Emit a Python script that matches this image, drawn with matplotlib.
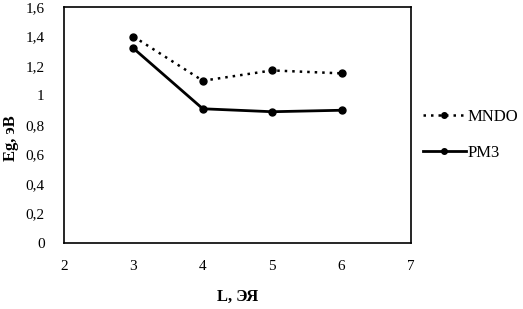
import matplotlib
matplotlib.use("Agg")
import matplotlib.pyplot as plt
from matplotlib.ticker import FuncFormatter

plt.rcParams['font.family'] = ['Liberation Serif', 'DejaVu Serif']

L = [3, 4, 5, 6]
mndo = [1.40, 1.10, 1.17, 1.15]
pm3 = [1.32, 0.91, 0.89, 0.90]
xticks = [2, 3, 4, 5, 6, 7]
yticks = [0, 0.2, 0.4, 0.6, 0.8, 1.0, 1.2, 1.4, 1.6]

fig = plt.figure(figsize=(5.23, 3.09), dpi=100)
ax = fig.add_axes([64/523, 1 - 243/309, (411-64)/523, (243-7)/309])

ax.plot(L, mndo, color='black', linestyle=(0, (1, 2)), linewidth=1.8,
        marker='o', markersize=5, label='MNDO')
ax.plot(L, pm3, color='black', linestyle='-', linewidth=2,
        marker='o', markersize=5, label='PM3')

ax.set_xlim(2, 7)
ax.set_ylim(0, 1.6)
ax.set_xticks(xticks)
ax.set_yticks(yticks)

def fmt(v, pos):
    s = ('%.1f' % v).rstrip('0').rstrip('.')
    return s.replace('.', ',')

ax.yaxis.set_major_formatter(FuncFormatter(fmt))
ax.xaxis.set_major_formatter(FuncFormatter(fmt))
ax.tick_params(length=0, labelsize=11, pad=12)
ax.tick_params(axis='y', pad=14)
for s in ax.spines.values():
    s.set_linewidth(1.2)

ax.set_xlabel('L, ЭЯ', fontsize=12, fontweight='bold', labelpad=12)
fig.text(11/523, 1 - 138/309, 'Eg, эВ', fontsize=12, fontweight='bold',
         rotation=90, ha='center', va='center')

fig.legend(loc='center left', bbox_to_anchor=(416/523, 1 - 135/309),
           frameon=False, fontsize=12, handlelength=2.6, handletextpad=0.1,
           labelspacing=1.2, borderaxespad=0, markerscale=0.8)

fig.savefig('out.png', dpi=100)
